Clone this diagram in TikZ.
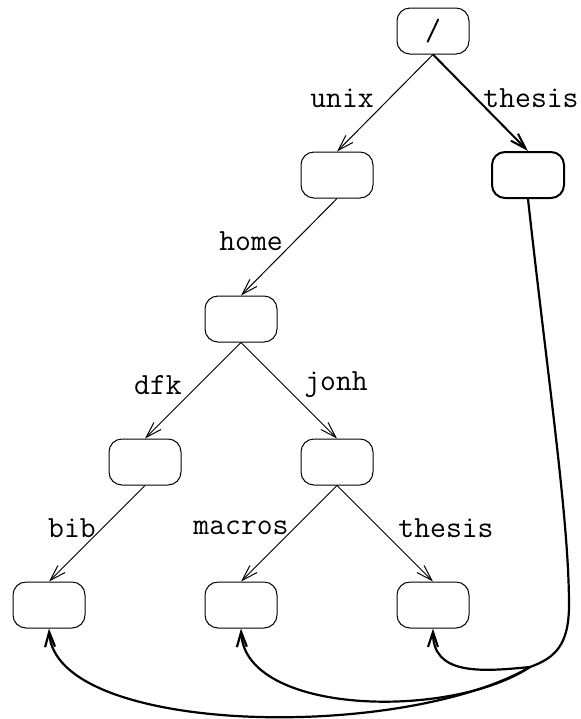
\documentclass[tikz,border=0pt]{standalone}
\usetikzlibrary{arrows.meta}
\begin{document}
\begin{tikzpicture}[x=0.5pt,y=-0.5pt,
  dirbox/.style={draw,rounded corners=6.5pt,minimum width=36pt,minimum height=23pt,inner sep=0pt,line width=0.5pt},
  thickbox/.style={dirbox,line width=1pt},
  lbl/.style={font=\fontsize{15.4}{18}\selectfont\ttfamily,inner sep=0pt},
  edge/.style={line width=0.5pt,-{Straight Barb[length=8pt,width=5pt]}},
  thickedge/.style={line width=1pt,-{Straight Barb[length=8pt,width=5pt]}},
  linkcurve/.style={line width=1.1pt},
  linkarrow/.style={line width=1.1pt,-{Straight Barb[length=7.5pt,width=5pt]}}]
\useasboundingbox (0,0) rectangle (581,719);
\node[dirbox] (root) at (433,31) {\fontsize{15.4}{18}\selectfont\ttfamily /};
\node[dirbox] (unix) at (337,175) {};
\node[thickbox] (th) at (528,175) {};
\node[dirbox] (home) at (241,319) {};
\node[dirbox] (dfk) at (145,462) {};
\node[dirbox] (jonh) at (337,462) {};
\node[dirbox] (bib) at (49,605) {};
\node[dirbox] (macros) at (241,605) {};
\node[dirbox] (thesis) at (433,605) {};

\draw[edge] (root.south) -- (unix.north);
\draw[thickedge] (root.south) -- (th.north);
\draw[edge] (unix.south) -- (home.north);
\draw[edge] (home.south) -- (dfk.north);
\draw[edge] (home.south) -- (jonh.north);
\draw[edge] (dfk.south) -- (bib.north);
\draw[edge] (jonh.south) -- (macros.north);
\draw[edge] (jonh.south) -- (thesis.north);

\node[lbl] (l1) at (342,98) {unix};
\node[lbl] (l2) at (531,98) {thesis};
\node[lbl] (l3) at (251,241) {home};
\node[lbl] (l4) at (158,385) {dfk};
\node[lbl] (l5) at (336,385) {jonh};
\node[lbl] (l6) at (72,528) {bib};
\node[lbl] (l7) at (241,528) {macros};
\node[lbl] (l8) at (446,528) {thesis};

\coordinate (J) at (530,667);
\coordinate (C) at (569,605);
\draw[linkcurve] (th.south) .. controls (548,380) and (569,520) .. (C)
  .. controls (569,645) and (555,658) .. (J);
\draw[linkarrow] (J) .. controls (480,672) and (433,675) .. (thesis.south);
\draw[linkarrow] (J) .. controls (450,720) and (245,715) .. (macros.south);
\draw[linkarrow] (J) .. controls (400,742) and (55,735) .. (bib.south);
\end{tikzpicture}
\end{document}
